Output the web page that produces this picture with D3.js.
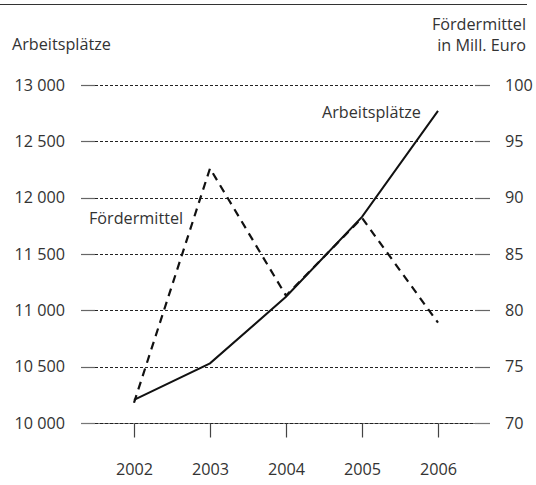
<!DOCTYPE html>
<html>
<head>
<meta charset="utf-8">
<script src="https://cdn.jsdelivr.net/npm/d3@7"></script>
<style>
  body { margin: 0; background: #fff; }
  svg text { font-family: "Open Sans", sans-serif; fill: #333; }
</style>
</head>
<body>
<script>
const years = ['2002', '2003', '2004', '2005', '2006'];
const arbeitsplaetze = [10205, 10530, 11120, 11830, 12770];
const foerdermittel = [71.8, 92.6, 81.3, 88.2, 78.9];
const leftTicks = [10000, 10500, 11000, 11500, 12000, 12500, 13000];
const rightTicks = [70, 75, 80, 85, 90, 95, 100];

var width = 536,
    height = 485,
    x0 = 81,
    x1 = 490,
    yTop = 85,
    yBottom = 423,
    fs = 16.2;

var svg = d3.select('body').append('svg')
    .attr('width', width)
    .attr('height', height);

var xScale = d3.scalePoint()
    .domain(years)
    .range([x0 + 53, x1 - 52]);

var yLeft = d3.scaleLinear()
    .domain([10000, 13000])
    .range([yBottom, yTop]);

var yRight = d3.scaleLinear()
    .domain([70, 100])
    .range([yBottom, yTop]);

var leftFormat = d => d3.format(',')(d).replace(',', ' ');

// top rule
svg.append('line')
    .attr('x1', 0).attr('x2', 527)
    .attr('y1', 4.5).attr('y2', 4.5)
    .attr('stroke', '#333').attr('stroke-width', 1.2);

// grid lines
var grid = svg.append('g');
leftTicks.forEach(t => {
    var y = Math.round(yLeft(t)) + 0.5;
    grid.append('line')
        .attr('x1', x0).attr('x2', x0 + 14).attr('y1', y).attr('y2', y)
        .attr('stroke', '#666').attr('stroke-width', 1.2);
    grid.append('line')
        .attr('x1', x1 - 15).attr('x2', x1).attr('y1', y).attr('y2', y)
        .attr('stroke', '#666').attr('stroke-width', 1.2);
    if (t === 10000) {
        grid.append('line')
            .attr('x1', x0).attr('x2', x1).attr('y1', y).attr('y2', y)
            .attr('stroke', '#777').attr('stroke-width', 1.2);
    }
    grid.append('line')
        .attr('x1', x0 + 14).attr('x2', x1 - 15).attr('y1', y).attr('y2', y)
        .attr('stroke', '#222').attr('stroke-width', 1)
        .attr('stroke-dasharray', '3,2');
});

// left axis labels
var leftAxis = d3.axisLeft(yLeft).tickValues(leftTicks).tickFormat(leftFormat).tickSize(0).tickPadding(0);
var gl = svg.append('g')
    .attr('transform', 'translate(65,0)')
    .call(leftAxis);
gl.select('.domain').remove();
gl.selectAll('text').attr('font-size', fs).attr('fill', '#333').attr('font-family', '"Open Sans", sans-serif');

// right axis labels
var rightAxis = d3.axisRight(yRight).tickValues(rightTicks).tickSize(0).tickPadding(0);
var gr = svg.append('g')
    .attr('transform', 'translate(505,0)')
    .call(rightAxis);
gr.select('.domain').remove();
gr.selectAll('text').attr('font-size', fs).attr('fill', '#333').attr('font-family', '"Open Sans", sans-serif');

// x axis
var xAxis = d3.axisBottom(xScale).tickSize(14).tickPadding(26);
var gx = svg.append('g')
    .attr('transform', `translate(0, ${yBottom + 0.5})`)
    .call(xAxis);
gx.select('.domain').remove();
gx.selectAll('line').attr('stroke', '#444').attr('stroke-width', 1.2);
gx.selectAll('text').attr('font-size', fs).attr('fill', '#333').attr('font-family', '"Open Sans", sans-serif');

// lines
var lineLeft = d3.line()
    .x((d, i) => xScale(years[i]))
    .y(d => yLeft(d));
var lineRight = d3.line()
    .x((d, i) => xScale(years[i]))
    .y(d => yRight(d));

svg.append('path')
    .datum(foerdermittel)
    .attr('d', lineRight)
    .attr('fill', 'none')
    .attr('stroke', '#111')
    .attr('stroke-width', 2.2)
    .attr('stroke-dasharray', '8,6');

svg.append('path')
    .datum(arbeitsplaetze)
    .attr('d', lineLeft)
    .attr('fill', 'none')
    .attr('stroke', '#111')
    .attr('stroke-width', 2);

// titles
svg.append('text').attr('x', 12).attr('y', 50).attr('font-size', fs).text('Arbeitsplätze');
svg.append('text').attr('x', 526).attr('y', 30).attr('font-size', fs).attr('text-anchor', 'end').text('Fördermittel');
svg.append('text').attr('x', 526).attr('y', 51).attr('font-size', fs).attr('text-anchor', 'end').text('in Mill. Euro');

// series labels
svg.append('text').attr('x', 322).attr('y', 118).attr('font-size', fs).text('Arbeitsplätze');
svg.append('text').attr('x', 89).attr('y', 224).attr('font-size', fs).text('Fördermittel');
</script>
</body>
</html>
